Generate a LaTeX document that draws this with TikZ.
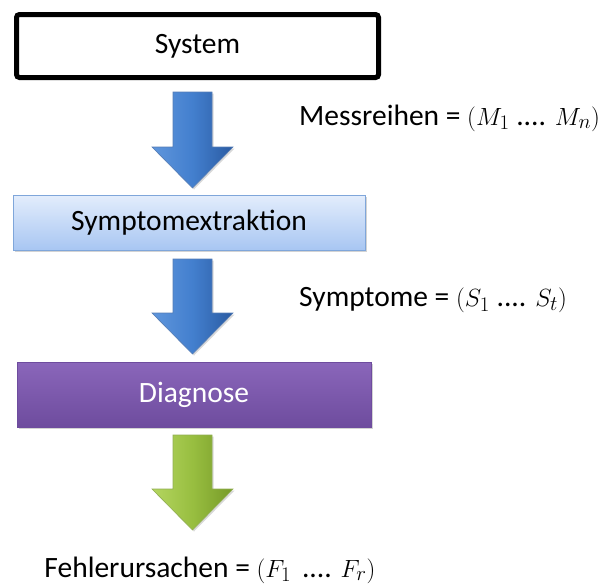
\documentclass[tikz,border=0pt]{standalone}
\usepackage{fontspec}
\setmainfont{Carlito}
\usetikzlibrary{shadows,calc}
\definecolor{blueL}{HTML}{5F96DC}
\definecolor{blueM}{HTML}{437FCE}
\definecolor{blueD}{HTML}{2A5BA2}
\definecolor{greenL}{HTML}{B4D660}
\definecolor{greenM}{HTML}{98BE40}
\definecolor{greenD}{HTML}{769A28}
\definecolor{purpleL}{HTML}{8A66BA}
\definecolor{purpleD}{HTML}{6E4C9E}
\definecolor{extrL}{HTML}{E3EDFC}
\definecolor{extrD}{HTML}{A8C6F2}
\definecolor{extrB}{HTML}{7FA6DA}
\tikzset{
  every node/.style={font=\fontsize{29.5}{33}\selectfont, inner sep=0pt},
  sysbox/.style={draw=black, line width=5pt, rounded corners=3pt, fill=white,
    drop shadow={shadow xshift=2pt, shadow yshift=-2pt, opacity=0.35}},
  extrbox/.style={draw=extrB, line width=1pt, top color=extrL, bottom color=extrD,
    drop shadow={shadow xshift=2pt, shadow yshift=-2pt, opacity=0.35}},
  diagbox/.style={draw=purpleD, line width=0.8pt, top color=purpleL, bottom color=purpleD,
    text=white, drop shadow={shadow xshift=2pt, shadow yshift=-2pt, opacity=0.35}},
  bluearrow/.style={draw=blueD!80, line width=0.6pt, left color=blueL, right color=blueD, middle color=blueM,
    drop shadow={shadow xshift=1.5pt, shadow yshift=-1.5pt, opacity=0.3}},
  greenarrow/.style={draw=greenD!80, line width=0.6pt, left color=greenL, right color=greenD, middle color=greenM,
    drop shadow={shadow xshift=1.5pt, shadow yshift=-1.5pt, opacity=0.3}},
  lbl/.style={anchor=west, text=black},
}
\newcommand{\blockarrow}[3]{% #1 style, #2 top coordinate name, #3 tip coordinate name
  \path[#1] let \p1=(#2), \p2=(#3) in
    (\x1-19.5pt,\y1) -- (\x1+19.5pt,\y1) -- (\x1+19.5pt,\y2+41pt) -- (\x1+40.5pt,\y2+41pt)
    -- (\x2,\y2) -- (\x1-40.5pt,\y2+41pt) -- (\x1-19.5pt,\y2+41pt) -- cycle;}
\begin{document}
\begin{tikzpicture}[x=1pt,y=-1pt]
\useasboundingbox (0,0) rectangle (603,587);
% boxes
\node[sysbox, minimum width=362pt, minimum height=63pt] (sys) at (197.5,46) {System};
\node[extrbox, minimum width=352pt, minimum height=55pt] (ext) at (189,222.5) {Symptomextraktion};
\node[diagbox, minimum width=354pt, minimum height=65pt] (diag) at (194,394.5) {Diagnose};
% arrow endpoints
\coordinate (a1t) at (192.5,92);
\coordinate (a1b) at (192.5,188);
\coordinate (a2t) at (192.5,259);
\coordinate (a2b) at (192.5,354);
\coordinate (a3t) at (192.5,435);
\coordinate (a3b) at (192.5,530);
\blockarrow{bluearrow}{a1t}{a1b}
\blockarrow{bluearrow}{a2t}{a2b}
\blockarrow{greenarrow}{a3t}{a3b}
% labels
\node[lbl] (mess) at (299,118) {Messreihen = $(M_1$ .... $M_n)$};
\node[lbl] (sym) at (299,300) {Symptome = $(S_1$ .... $S_t)$};
\node[text=black] (fehl) at (210,570) {Fehlerursachen = $(F_1\,$ .... $F_r)$};
\end{tikzpicture}
\end{document}
